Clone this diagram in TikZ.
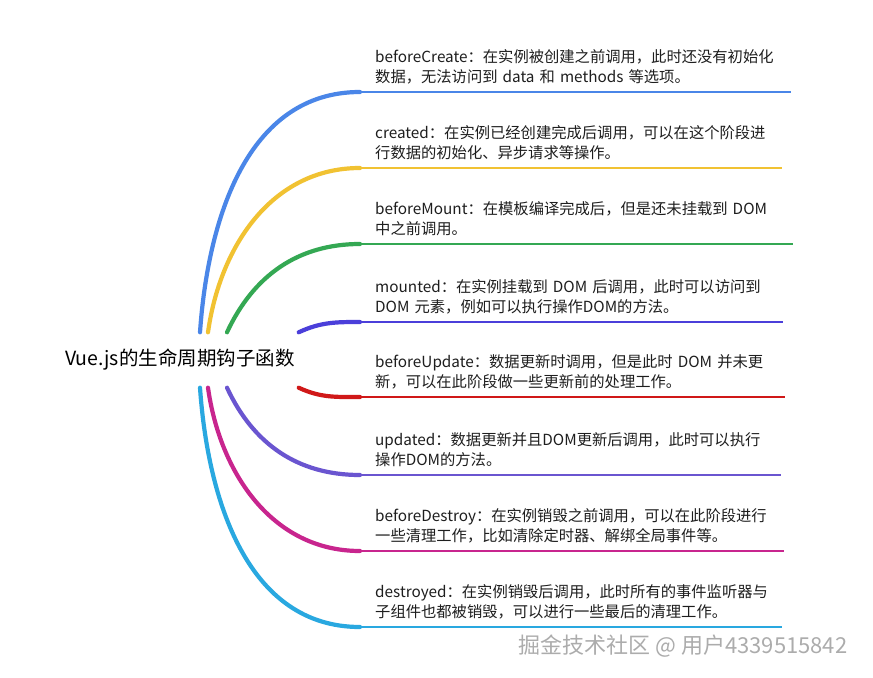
\documentclass[tikz,border=0pt]{standalone}
\usepackage{fontspec}
\setmainfont{Noto Sans CJK SC}
\usetikzlibrary{calc}
\definecolor{cblue}{HTML}{4A86E8}
\definecolor{cyellow}{HTML}{F1C232}
\definecolor{cgreen}{HTML}{34A853}
\definecolor{cindigo}{HTML}{4B3FDA}
\definecolor{cred}{HTML}{D01818}
\definecolor{cpurple}{HTML}{6A55D0}
\definecolor{cmagenta}{HTML}{C8258E}
\definecolor{ccyan}{HTML}{29A8E0}
\definecolor{ctext}{HTML}{1E1E1E}
\begin{document}
\begin{tikzpicture}[x=1bp,y=-1bp,
  branch/.style={line width=4.2bp, line cap=round},
  uline/.style={line width=2.6bp},
  desc/.style={anchor=base west, inner xsep=15bp, inner ysep=0pt, text width=440bp, align=left,
    text=ctext, font=\fontsize{15.3bp}{20bp}\selectfont},
  titlebox/.style={fill=white, minimum width=237bp, minimum height=55bp, inner sep=0pt,
    text=black, font=\fontsize{19.5bp}{24bp}\selectfont},
  wmark/.style={text=gray!65, font=\fontsize{22bp}{26bp}\selectfont, inner sep=0pt}]
\useasboundingbox[fill=white] (0,0) rectangle (873,678);

\node[titlebox] (t) at (180,360) {Vue.js的生命周期钩子函数};

% underline end points
\coordinate (e1) at (360,92);  \coordinate (f1) at (791,92);
\coordinate (e2) at (360,168); \coordinate (f2) at (782,168);
\coordinate (e3) at (360,244); \coordinate (f3) at (793,244);
\coordinate (e4) at (360,322); \coordinate (f4) at (783,322);
\coordinate (e5) at (360,397); \coordinate (f5) at (785,397);
\coordinate (e6) at (360,475); \coordinate (f6) at (781,475);
\coordinate (e7) at (360,551); \coordinate (f7) at (784,551);
\coordinate (e8) at (360,627); \coordinate (f8) at (782,627);

% descriptions
\node[desc] (b1) at ($(e1)+(0,-29.5)$) {beforeCreate：在实例被创建之前调用，此时还没有初始化\\数据，无法访问到 data 和 methods 等选项。};
\node[desc] (b2) at ($(e2)+(0,-29.5)$) {created：在实例已经创建完成后调用，可以在这个阶段进\\行数据的初始化、异步请求等操作。};
\node[desc] (b3) at ($(e3)+(0,-29.5)$) {beforeMount：在模板编译完成后，但是还未挂载到 DOM\\中之前调用。};
\node[desc] (b4) at ($(e4)+(0,-29.5)$) {mounted：在实例挂载到 DOM 后调用，此时可以访问到\\DOM 元素，例如可以执行操作DOM的方法。};
\node[desc] (b5) at ($(e5)+(0,-29.5)$) {beforeUpdate：数据更新时调用，但是此时 DOM 并未更\\新，可以在此阶段做一些更新前的处理工作。};
\node[desc] (b6) at ($(e6)+(0,-29.5)$) {updated：数据更新并且DOM更新后调用，此时可以执行\\操作DOM的方法。};
\node[desc] (b7) at ($(e7)+(0,-29.5)$) {beforeDestroy：在实例销毁之前调用，可以在此阶段进行\\一些清理工作，比如清除定时器、解绑全局事件等。};
\node[desc] (b8) at ($(e8)+(0,-29.5)$) {destroyed：在实例销毁后调用，此时所有的事件监听器与\\子组件也都被销毁，可以进行一些最后的清理工作。};

% branches
\draw[branch, cblue]    (t.north -| 200,0) to[out=86,in=180] (e1);
\draw[uline, cblue]     (e1) -- (f1);
\draw[branch, cyellow]  (t.north -| 208,0) to[out=82,in=180] (e2);
\draw[uline, cyellow]   (e2) -- (f2);
\draw[branch, cgreen]   (t.north -| 227,0) to[out=65,in=180] (e3);
\draw[uline, cgreen]    (e3) -- (f3);
\draw[branch, cindigo]  (t.north east) to[out=25,in=180] (e4);
\draw[uline, cindigo]   (e4) -- (f4);
\draw[branch, cred]     (t.south east) to[out=-25,in=180] (e5);
\draw[uline, cred]      (e5) -- (f5);
\draw[branch, cpurple]  (t.south -| 227,0) to[out=-65,in=180] (e6);
\draw[uline, cpurple]   (e6) -- (f6);
\draw[branch, cmagenta] (t.south -| 208,0) to[out=-82,in=180] (e7);
\draw[uline, cmagenta]  (e7) -- (f7);
\draw[branch, ccyan]    (t.south -| 200,0) to[out=-86,in=180] (e8);
\draw[uline, ccyan]     (e8) -- (f8);

\node[wmark] (w) at (683,646) {掘金技术社区 @ 用户4339515842};
\end{tikzpicture}
\end{document}
